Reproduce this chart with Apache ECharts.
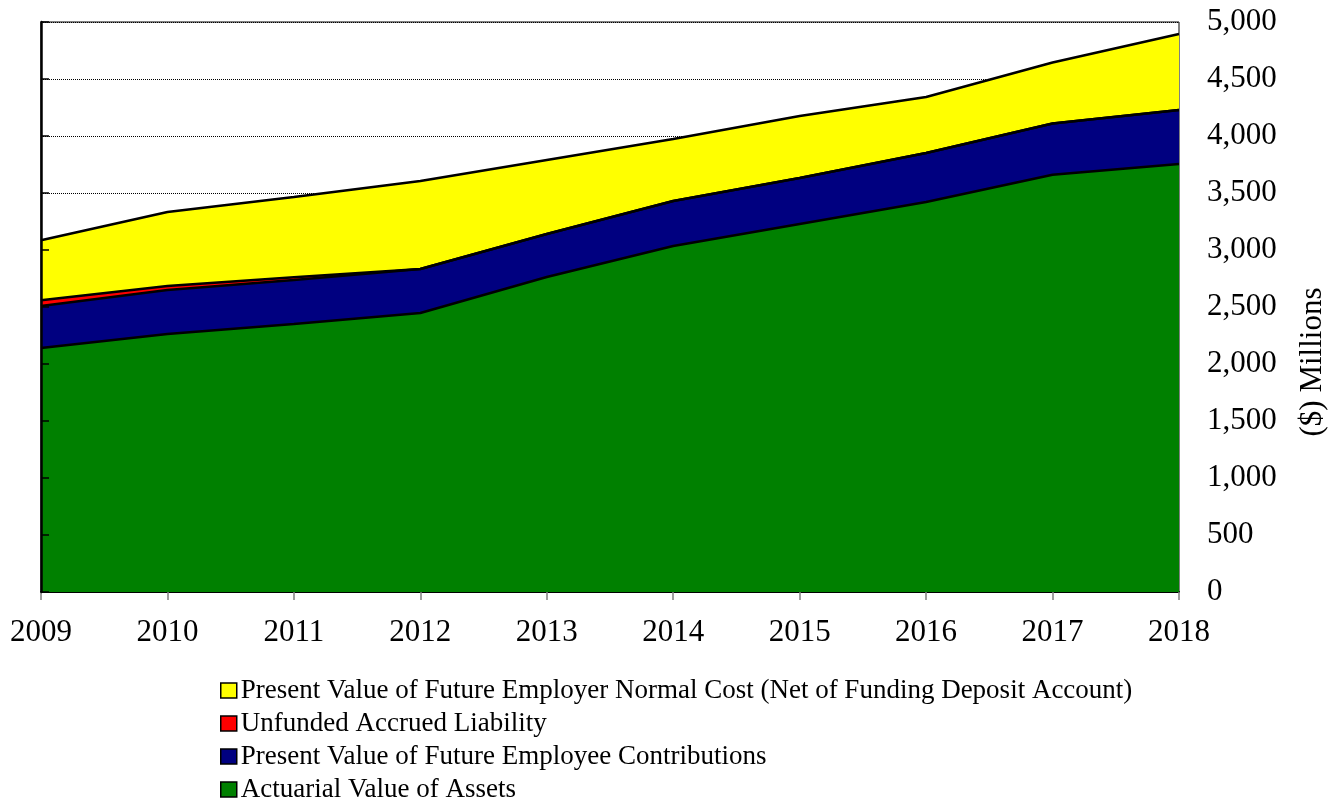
<!DOCTYPE html>
<html>
<head>
<meta charset="utf-8">
<script src="https://cdn.jsdelivr.net/npm/echarts@6/dist/echarts.min.js"></script>
<style>
  html, body { margin: 0; padding: 0; background: #fff; }
  #chart { width: 1342px; height: 804px; }
</style>
</head>
<body>
<div id="chart"></div>
<script>
// values, $ millions, stacked bottom to top
var years = ["2009", "2010", "2011", "2012", "2013", "2014", "2015", "2016", "2017", "2018"];
var assets = [2140, 2263, 2351, 2447, 2763, 3035, 3228, 3421, 3660, 3754];
var employeeContrib = [369, 386, 386, 386, 377, 395, 404, 430, 450, 474];
var unfunded = [50, 35, 25, 0, 0, 0, 0, 0, 0, 0];
var employerNormalCost = [527, 649, 702, 772, 649, 544, 543, 491, 535, 667];

var names = {
  yellow: "Present Value of Future Employer Normal Cost (Net of Funding Deposit Account)",
  red: "Unfunded Accrued Liability",
  blue: "Present Value of Future Employee Contributions",
  green: "Actuarial Value of Assets"
};

var font = "'Liberation Serif', 'Times New Roman', serif";

function areaSeries(name, data, color) {
  return {
    name: name,
    type: "line",
    stack: "total",
    data: data,
    symbol: "none",
    color: color,
    itemStyle: { color: color },
    lineStyle: { color: "#000", width: 2.5 },
    areaStyle: { color: color, opacity: 1 },
    emphasis: { disabled: true },
    z: 2
  };
}

var chartOption = {
  animation: false,
  backgroundColor: "#fff",
  grid: {
    left: 41,
    right: 163,
    top: 22,
    bottom: 212,
    outerBoundsMode: "none",
    show: true,
    borderColor: "#000",
    borderWidth: 1
  },
  legend: {
    orient: "vertical",
    left: 215,
    top: 672,
    height: 140,
    icon: "rect",
    itemWidth: 16,
    itemHeight: 15,
    itemGap: 6,
    itemStyle: { borderColor: "#000", borderWidth: 1.5 },
    textStyle: { fontFamily: font, fontSize: 27, color: "#000", padding: [0, 0, 0, -1] },
    data: [names.yellow, names.red, names.blue, names.green]
  },
  graphic: [
    {
      type: "text",
      x: 1313,
      y: 362,
      rotation: Math.PI / 2,
      style: {
        text: "($) Millions",
        font: "31px " + font,
        fill: "#000",
        align: "center",
        verticalAlign: "middle"
      }
    }
  ],
  xAxis: {
    type: "category",
    data: years,
    boundaryGap: false,
    axisLine: { lineStyle: { color: "#000", width: 2 } },
    axisTick: { show: true, length: 8, lineStyle: { color: "#808080", width: 1.5 } },
    axisLabel: { fontFamily: font, fontSize: 31, color: "#000", margin: 25 },
    splitLine: { show: false }
  },
  yAxis: [
    {
      type: "value",
      position: "right",
      min: 0,
      max: 5000,
      interval: 500,
      axisLine: { show: false },
      axisTick: { show: false },
      axisLabel: {
        fontFamily: font,
        fontSize: 31,
        color: "#000",
        margin: 28,
        formatter: function (v) { return v.toLocaleString("en-US"); }
      },
      splitLine: { show: true, lineStyle: { color: "#000", width: 1, type: [1, 1] } }
    },
    {
      type: "value",
      position: "left",
      min: 0,
      max: 5000,
      interval: 500,
      z: 5,
      axisLine: { show: true, lineStyle: { color: "#000", width: 2.5 } },
      axisTick: { show: true, inside: true, length: 8, lineStyle: { color: "#000", width: 1.5 } },
      axisLabel: { show: false },
      splitLine: { show: false }
    }
  ],
  series: [
    areaSeries(names.green, assets, "#008000"),
    areaSeries(names.blue, employeeContrib, "#000080"),
    areaSeries(names.red, unfunded, "#FF0000"),
    areaSeries(names.yellow, employerNormalCost, "#FFFF00")
  ]
};

var myChart = echarts.init(document.getElementById("chart"));
myChart.setOption(chartOption);
</script>
</body>
</html>
